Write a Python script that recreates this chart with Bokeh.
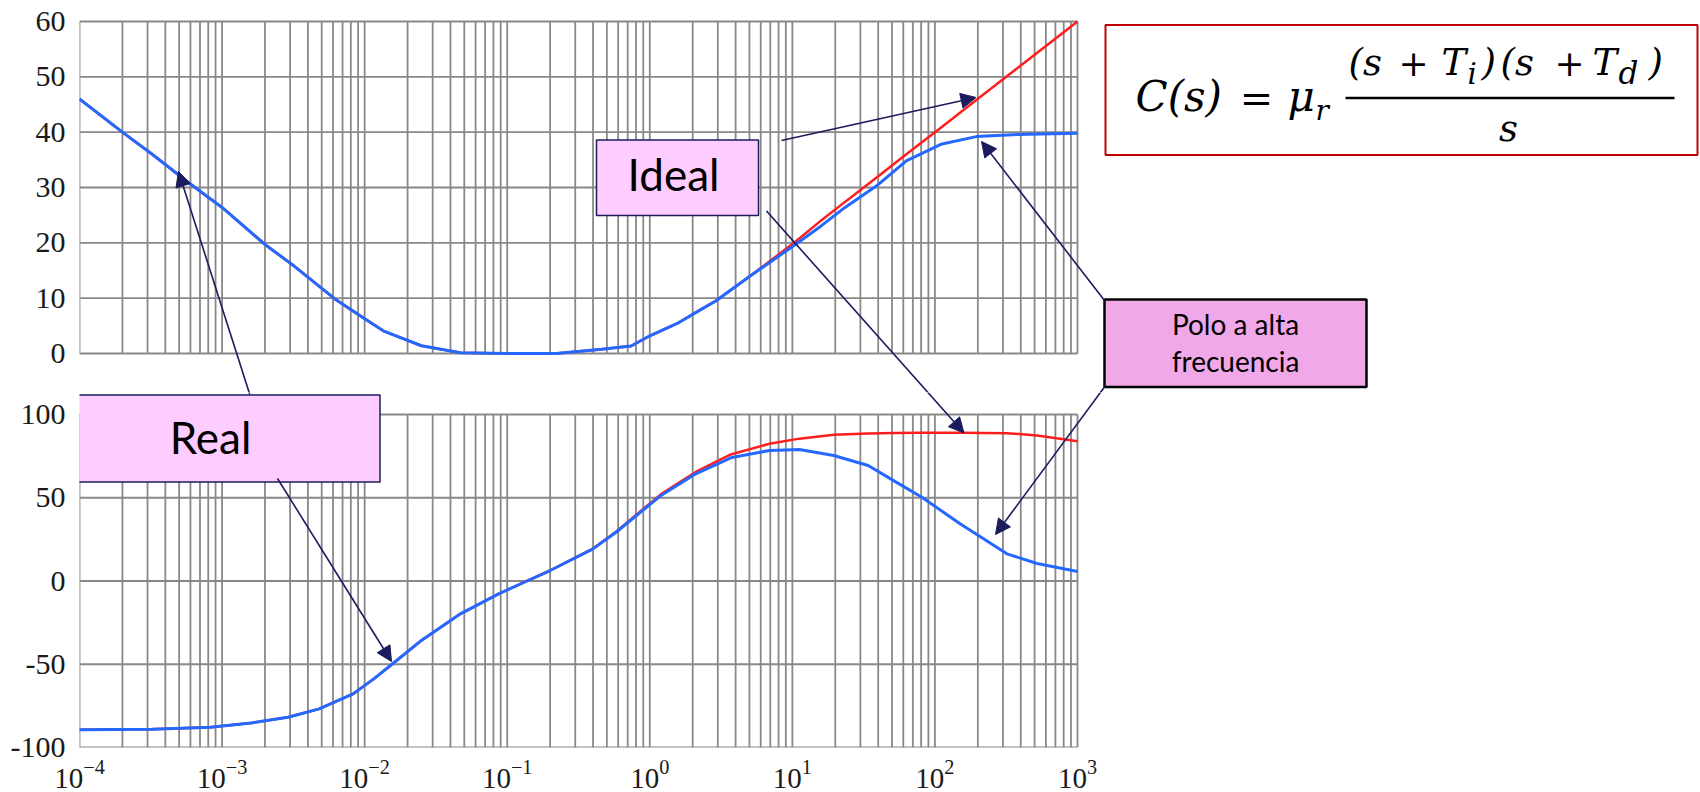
from bokeh.plotting import figure
from bokeh.layouts import column
from bokeh.models import (Range1d, FixedTicker, LogTickFormatter, BoxAnnotation,
                          Label, Arrow, NormalHead, PrintfTickFormatter)
from bokeh.embed import file_html
from bokeh.resources import INLINE

# ---------------- data ----------------
freq_mag = [1e-4, 2e-4, 3.2e-4, 5.8e-4, 1e-3, 2e-3, 3.2e-3, 6.3e-3, 1e-2, 1.35e-2,
            2.5e-2, 4.7e-2, 0.1, 0.22, 0.46, 0.74, 1.0, 1.6, 2.2, 2.9, 5.0, 10.5,
            16, 23.4, 39, 63, 110, 195, 380, 1000]
mag_real = [46.0, 40.0, 36.1, 30.9, 26.4, 19.7, 15.8, 9.7, 6.3, 4.1, 1.4, 0.15, 0.0,
            0.0, 0.75, 1.36, 3.2, 5.6, 7.7, 9.5, 13.9, 19.7, 23.1, 26.4, 30.3, 34.8,
            37.8, 39.2, 39.6, 39.8]
mag_ideal = [46.0, 40.0, 36.1, 30.9, 26.4, 19.7, 15.8, 9.7, 6.3, 4.1, 1.4, 0.15, 0.0,
             0.0, 0.75, 1.36, 3.2, 5.6, 7.7, 9.5, 13.9, 20.2, 24.1, 27.4, 31.8, 36.0,
             40.8, 45.8, 51.6, 60.0]

freq_phase = [1e-4, 3.2e-4, 8.3e-4, 1.6e-3, 2.9e-3, 4.8e-3, 8.3e-3, 1.17e-2, 1.62e-2,
              2.5e-2, 4.7e-2, 8.7e-2, 0.14, 0.2, 0.4, 0.58, 1.2, 2.1, 3.7, 6.9, 11.2,
              19.5, 34, 52, 81, 150, 320, 520, 1000]
phase_real = [-89.4, -89.0, -87.8, -85.3, -81.8, -76.8, -67.8, -58.5, -48.8, -35.7,
              -19.7, -7.7, 0.3, 6.3, 19.3, 29.3, 51.4, 64.4, 74.0, 78.4, 79.0, 75.4,
              69.4, 60.0, 50.3, 34.4, 16.3, 10.5, 5.7]
phase_ideal = [-89.4, -89.0, -87.8, -85.3, -81.8, -76.8, -67.8, -58.5, -48.8, -35.7,
               -19.7, -7.7, 0.3, 6.3, 19.5, 29.6, 52.2, 65.5, 76.0, 82.4, 85.5, 87.8,
               88.6, 88.9, 89.0, 89.0, 88.8, 87.4, 84.0]

decades = [1e-4, 1e-3, 1e-2, 1e-1, 1e0, 1e1, 1e2, 1e3]
mag_ticks = [0, 10, 20, 30, 40, 50, 60]
phase_ticks = [-100, -50, 0, 50, 100]

label_ideal = "Ideal"
label_real = "Real"
label_polo = ["Polo a alta", "frecuencia"]

# ---------------- layout helpers (page pixel -> data) ----------------
W = 1700
X0, X1 = 79, 1077           # 1e-4 / 1e3 position on the page
DEC = (X1 - X0) / 7.0        # pixels per decade
LB = 79                     # left border of both figures
T0, T1 = 21, 353            # top plot: 60 / 0 (page y)
B0, B1 = 414, 747           # bottom plot: 100 / -100 (page y)
H_TOP = 392
H_BOT = 400
XB_BOT = 45                 # bottom border for x tick labels


def px_x(xp):
    return 10 ** (-4 + (xp - X0) / DEC)


def top_y(yp):
    return (T1 - yp) * 60.0 / (T1 - T0)


def bot_y(yp):
    return 100 - (yp - B0) * 200.0 / (B1 - B0)


x_end = px_x(W)
minor = [k * d for d in decades[:-1] for k in range(2, 10)]
all_x = sorted(decades + minor)
GRID = "#888888"
BLUE = "#2468FF"
RED = "#FF1E1E"
NAVY = "#1b1b5e"
TICKFONT = "Liberation Serif"


def style_y(p, yticks):
    p.grid.visible = False
    p.outline_line_color = None
    ax = p.yaxis[0]
    ax.ticker = FixedTicker(ticks=yticks)
    ax.formatter = PrintfTickFormatter(format="%d")
    ax.axis_line_color = None
    ax.major_tick_line_color = None
    ax.minor_tick_line_color = None
    ax.major_label_standoff = 8
    ax.major_label_text_font = TICKFONT
    ax.major_label_text_font_size = "30px"
    ax.major_label_text_color = "#1a1a1a"


def draw_grid(p, y_lo, y_hi, yticks):
    p.segment(x0=all_x, y0=[y_lo] * len(all_x), x1=all_x, y1=[y_hi] * len(all_x),
              line_color=GRID, line_width=1.8)
    p.segment(x0=[decades[0]] * len(yticks), y0=yticks, x1=[decades[-1]] * len(yticks),
              y1=yticks, line_color=GRID, line_width=1.8)


top = figure(width=W, height=H_TOP, x_axis_type="log",
             x_range=Range1d(px_x(LB), x_end),
             y_range=Range1d(top_y(H_TOP), top_y(0)),
             x_axis_location=None, output_backend="svg", toolbar_location=None,
             title=None, min_border_left=LB, min_border_right=0, min_border_top=0,
             min_border_bottom=0)
style_y(top, mag_ticks)
draw_grid(top, 0, 60, mag_ticks)
top.line(freq_mag, mag_ideal, line_color=RED, line_width=2.5)
top.line(freq_mag, mag_real, line_color=BLUE, line_width=3)

bot = figure(width=W, height=H_BOT, x_axis_type="log",
             x_range=Range1d(px_x(LB), x_end),
             y_range=Range1d(-100, bot_y(H_TOP)),
             output_backend="svg", toolbar_location=None, title=None,
             min_border_left=LB, min_border_right=0, min_border_top=0,
             min_border_bottom=XB_BOT)
style_y(bot, phase_ticks)
xa = bot.xaxis[0]
xa.ticker = FixedTicker(ticks=decades, minor_ticks=[])
xa.formatter = LogTickFormatter()
xa.axis_line_color = None
xa.major_tick_line_color = None
xa.minor_tick_line_color = None
xa.major_label_standoff = 6
xa.major_label_text_font = TICKFONT
xa.major_label_text_font_size = "29px"
xa.major_label_text_color = "#1a1a1a"
draw_grid(bot, -100, 100, phase_ticks)
bot.line(freq_phase, phase_ideal, line_color=RED, line_width=2.5)
bot.line(freq_phase, phase_real, line_color=BLUE, line_width=3)


# ---------------- annotations ----------------
def box(fig, yfn, l, t, r, b, fill, line, lw):
    fig.add_layout(BoxAnnotation(left=px_x(l), right=px_x(r), top=yfn(t), bottom=yfn(b),
                                 fill_color=fill, fill_alpha=1, line_color=line,
                                 line_alpha=1, line_width=lw, level="overlay"))


BASE_FIX = 0.40   # Label alphabetic-baseline correction (fraction of font size)


def text(fig, yfn, xp, yp, s, size, font="Lato", fstyle="normal", align="center"):
    fig.add_layout(Label(x=px_x(xp), y=yfn(yp - BASE_FIX * size), text=s, text_font=font,
                         text_font_size=f"{size}px", text_font_style=fstyle,
                         text_align=align, text_baseline="alphabetic",
                         text_color="black", level="overlay"))


def arrow(fig, yfn, p0, p1, head=True, color=NAVY, lw=1.6):
    end = NormalHead(size=15, fill_color=color, line_color=color, line_width=1) if head else None
    fig.add_layout(Arrow(end=end, x_start=px_x(p0[0]), y_start=yfn(p0[1]),
                         x_end=px_x(p1[0]), y_end=yfn(p1[1]), line_color=color,
                         line_width=lw, level="overlay"))


# formula box
box(top, top_y, 1105, 24.5, 1697, 154.5, "white", "#C00000", 2)
# label boxes
box(top, top_y, 596, 139.5, 758, 215, "#FFCCFF", NAVY, 1.5)
box(bot, bot_y, 64.5, 394.5, 379.5, 481.5, "#FFCCFF", NAVY, 1.5)
box(top, top_y, 1104, 299, 1366, 386.5, "#F0A8E8", "black", 2.5)

# arrows
arrow(top, top_y, (781, 140), (975.5, 97))
arrow(top, top_y, (766, 210.5), (963.5, 432.5), head=False)
arrow(bot, bot_y, (766, 210.5), (963.5, 432.5))
arrow(top, top_y, (249.3, 394), (178, 171))
arrow(bot, bot_y, (249.3, 394), (178, 171), head=False)
arrow(bot, bot_y, (277, 478), (391, 661))
arrow(top, top_y, (1104, 300), (981, 141))
arrow(top, top_y, (1104, 386.5), (995, 534), head=False)
arrow(bot, bot_y, (1104, 386.5), (995, 534))

# texts in boxes
text(top, top_y, 673, 191.5, label_ideal, 44)
text(bot, bot_y, 210, 454, label_real, 44)
text(top, top_y, 1235, 335, label_polo[0], 28)
text(top, top_y, 1235, 371.5, label_polo[1], 28)

# formula  C(s) = mu_r (s+T_i)(s+T_d) / s
SERIF = "DejaVu Serif"
text(top, top_y, 1135, 113, "C(s)", 42, SERIF, "italic", "left")
text(top, top_y, 1256, 113, "=", 40, SERIF, "normal", "center")
text(top, top_y, 1287, 113, "\u03bc", 42, SERIF, "italic", "left")
text(top, top_y, 1315, 121, "r", 28, SERIF, "italic", "left")
text(top, top_y, 1348, 77, "(s", 37, SERIF, "italic", "left")
text(top, top_y, 1413, 77, "+", 36, SERIF, "normal", "center")
text(top, top_y, 1441, 77, "T", 37, SERIF, "italic", "left")
text(top, top_y, 1467, 85, "i", 29, SERIF, "italic", "left")
text(top, top_y, 1481, 77, ")", 37, SERIF, "italic", "left")
text(top, top_y, 1500, 77, "(s", 37, SERIF, "italic", "left")
text(top, top_y, 1569, 77, "+", 36, SERIF, "normal", "center")
text(top, top_y, 1592, 77, "T", 37, SERIF, "italic", "left")
text(top, top_y, 1618, 85, "d", 31, SERIF, "italic", "left")
text(top, top_y, 1648, 77, ")", 37, SERIF, "italic", "left")
text(top, top_y, 1508, 143, "s", 37, SERIF, "italic", "center")
arrow(top, top_y, (1345, 97.5), (1674, 97.5), head=False, color="black", lw=2.5)

layout = column(top, bot)
open("out.html", "w").write(file_html(layout, INLINE))
